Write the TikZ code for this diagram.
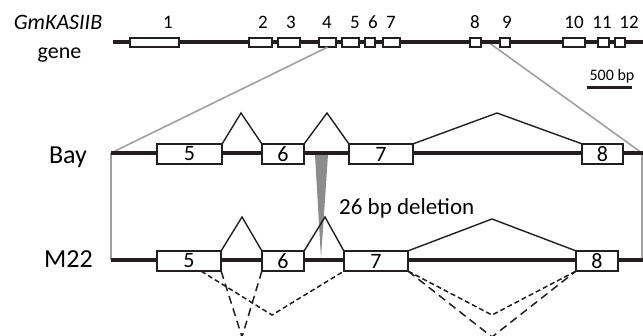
\documentclass[tikz,border=0pt]{standalone}
\usepackage{fontspec}
\setmainfont{Carlito}
\usetikzlibrary{calc}

\definecolor{ink}{RGB}{35,31,32}
\definecolor{guide}{RGB}{160,160,160}
\definecolor{delgray}{RGB}{140,140,140}

\tikzset{
  geneline/.style={draw=ink, line width=4.5pt},
  exon/.style={draw=ink, fill=white, line width=1.6pt, inner sep=0pt, outer sep=0pt,
    font=\fontsize{22}{22}\selectfont},
  topexon/.style={exon, line width=1.7pt},
  exonnum/.style={anchor=base, inner sep=0pt, font=\fontsize{19}{19}\selectfont},
  rowlabel/.style={anchor=base, inner sep=0pt, font=\fontsize{26}{26}\selectfont},
  splice/.style={draw=ink, line width=1.4pt, line join=miter},
  guideline/.style={draw=guide, line width=1.6pt},
  altshort/.style={draw=ink, line width=1.5pt, dash pattern=on 5pt off 3pt},
  altlong/.style={draw=ink, line width=1.5pt, dash pattern=on 8pt off 5pt},
}

% exon box: name, left, right, top, bottom, text
\newcommand{\exonbox}[7][exon]{%
  \node[#1, minimum width={(#4-#3-1.6)*1pt}, minimum height={(#6-#5-1.6)*1pt}]
    (#2) at ({(#3+#4)/2},{(#5+#6)/2}) {#7};}

\begin{document}
\begin{tikzpicture}[x=1pt,y=-1pt]
\useasboundingbox (0,0) rectangle (643,335);

% ---------- whole gene ----------
\coordinate (gL) at (113,42);
\coordinate (gR) at (643,42);
\coordinate (gSplit) at (488,42);

% ---------- Bay and M22 ends ----------
\coordinate (bayL) at (111,153);
\coordinate (bayR) at (643,153);
\coordinate (bayRg) at (642,153);
\coordinate (mL) at (111,260);
\coordinate (mR) at (643,260);
\coordinate (mRg) at (642,260);

% guides from the gene to the enlarged region
\draw[guideline] (bayL) -- (mL);
\draw[guideline] (bayRg) -- (mRg);
\draw[guideline] (gSplit) -- (bayRg);

\draw[geneline] (gL) -- (gR);
\exonbox[topexon]{t1}{129}{180}{37}{48}{}
\exonbox[topexon]{t2}{248}{273}{37}{48}{}
\exonbox[topexon]{t3}{277}{301}{37}{48}{}
\exonbox[topexon]{t4}{318}{337}{37}{48}{}
\exonbox[topexon]{t5}{341}{360}{37}{48}{}
\exonbox[topexon]{t6}{364}{376}{37}{48}{}
\exonbox[topexon]{t7}{382}{401}{37}{48}{}
\exonbox[topexon]{t8}{469}{482}{37}{48}{}
\exonbox[topexon]{t9}{499}{511}{37}{48}{}
\exonbox[topexon]{t10}{562}{586}{37}{48}{}
\exonbox[topexon]{t11}{597}{610}{37}{48}{}
\exonbox[topexon]{t12}{614}{626}{37}{48}{}
\draw[guideline] (t4.south) -- (bayL);

\node[exonnum] (n1) at (168,28) {1};
\node[exonnum] (n2) at (263,28) {2};
\node[exonnum] (n3) at (291,28) {3};
\node[exonnum] (n4) at (327,28) {4};
\node[exonnum] (n5) at (355,28) {5};
\node[exonnum] (n6) at (373,28) {6};
\node[exonnum] (n7) at (391,28) {7};
\node[exonnum] (n8) at (475,28) {8};
\node[exonnum] (n9) at (507,28) {9};
\node[exonnum] (n10) at (574,28) {10};
\node[exonnum] (n11) at (602,28) {11};
\node[exonnum] (n12) at (629,28) {12};

\node[anchor=base, inner sep=0pt, font=\fontsize{22}{22}\selectfont\itshape] (gname) at (58,29) {GmKASIIB};
\node[anchor=base, inner sep=0pt, font=\fontsize{22}{22}\selectfont] (gword) at (59.5,58) {gene};

% scale bar
\node[anchor=base, inner sep=0pt, font=\fontsize{16}{16}\selectfont] (scale) at (612,80) {500 bp};
\coordinate (sbL) at (587,87);
\coordinate (sbR) at (632,87);
\draw[ink, line width=3pt] (sbL) -- (sbR);

% ---------- Bay ----------
\node[rowlabel] (bay) at (68,163) {Bay};
\draw[geneline] (bayL) -- (bayR);

% 26 bp deletion wedge
\coordinate (dA) at (315,155);
\coordinate (dB) at (328,155);
\coordinate (dTip) at (321,258);
\fill[delgray] (dA) -- (dB) -- (dTip) -- cycle;

\exonbox{b5}{156}{223}{143}{165}{5}
\exonbox{b6}{261}{305}{143}{165}{6}
\exonbox{b7}{348}{414}{143}{165}{7}
\exonbox{b8}{581}{624}{143}{165}{8}

\coordinate (bp56) at (241,113);
\coordinate (bp67) at (327,113);
\coordinate (bp78) at (497,113);
\draw[splice] (b5.north east) -- (bp56) -- (b6.north west);
\draw[splice] (b6.north east) -- (bp67) -- (b7.north west);
\draw[splice] (b7.north east) -- (bp78) -- (b8.north west);

\node[anchor=base west, inner sep=0pt, font=\fontsize{23}{23}\selectfont] (del) at (339,214) {26 bp deletion};

% ---------- M22 ----------
\node[rowlabel] (m22) at (68.5,267) {M22};
\draw[geneline] (mL) -- (mR);

\exonbox{m5}{156}{222}{250}{272}{5}
\exonbox{m6}{261}{305}{250}{272}{6}
\exonbox{m7}{343}{409}{250}{272}{7}
\exonbox{m8}{575}{619}{250}{272}{8}

\coordinate (mp56) at (242,217);
\coordinate (mp67) at (325,217);
\coordinate (mp78) at (492,219);
\draw[splice] (m5.north east) -- (mp56) -- (m6.north west);
\draw[splice] (m6.north east) -- (mp67) -- (m7.north west);
\draw[splice] (m7.north east) -- (mp78) -- (m8.north west);

% alternative splicing below M22
\coordinate (m5cut) at ($(m5.south west)!0.69!(m5.south east)$);
\coordinate (v57) at (272,315);
\coordinate (v78) at (492,315);
\coordinate (w56) at (242,337);
\coordinate (w78) at (492,337);
\draw[altshort] (m5cut) -- (v57) -- (m7.south west);
\draw[altshort] (m7.south east) -- (v78) -- (m8.south west);
\draw[altlong] (m5.south east) -- (w56) -- (m6.south west);
\draw[altlong] (m7.south east) -- (w78) -- (m8.south west);

\end{tikzpicture}
\end{document}
